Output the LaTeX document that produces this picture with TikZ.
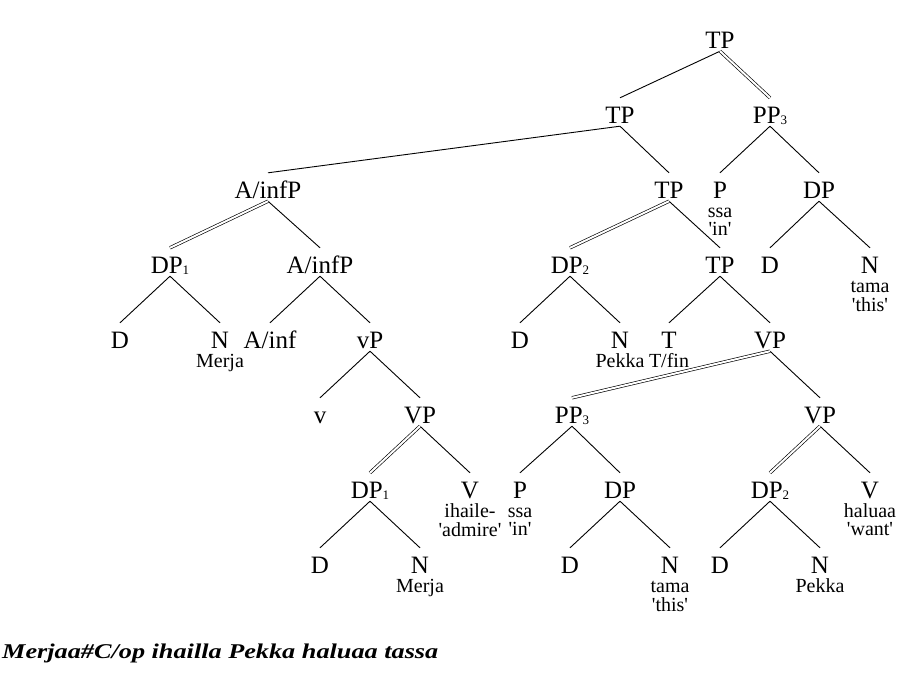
\documentclass[tikz,border=0pt]{standalone}
\usepackage{fontspec}
\usepackage{graphicx}
\setmainfont{Liberation Serif}
\newcommand\sbs[1]{\raisebox{-1pt}{\fontsize{13}{13}\selectfont #1}}
\newcommand\qq{\textquotesingle}
\newcommand\twol[2]{\begin{tabular}[t]{@{}c@{}}#1\\#2\end{tabular}}
\tikzset{
  lab/.style={anchor=base, font=\fontsize{25}{25}\selectfont, text height=22pt, text depth=0pt, inner xsep=0pt, inner ysep=3pt},
  gl/.style={anchor=base, font=\fontsize{20}{18}\selectfont, inner sep=0pt},
  ln/.style={line width=0.9pt},
  dbl/.style={double, double distance=2pt, line width=0.65pt}
}
\begin{document}
\begin{tikzpicture}[x=1pt,y=-1pt]
\useasboundingbox (0,0) rectangle (900,675);
% row 1
\node[lab] (t1) at (720,48) {TP};
% row 2
\node[lab] (t2) at (620,123) {TP};
\node[lab] (pp3a) at (770,123) {PP\sbs{3}};
% row 3
\node[lab] (a1) at (268,198) {A/infP};
\node[lab] (t3) at (669,198) {TP};
\node[lab] (p1) at (720,198) {P};
\node[gl] (p1g) at (720,217) {\twol{ssa}{\qq in\qq}};
\node[lab] (dpa) at (819,198) {DP};
% row 4
\node[lab] (dp1a) at (170,273) {DP\sbs{1}};
\node[lab] (a2) at (320,273) {A/infP};
\node[lab] (dp2a) at (570,273) {DP\sbs{2}};
\node[lab] (t4) at (720,273) {TP};
\node[lab] (da) at (770,273) {D};
\node[lab] (na) at (870,273) {N};
\node[gl] (nag) at (870,292) {\twol{tama}{\qq this\qq}};
% row 5
\node[lab] (d1) at (120,348) {D};
\node[lab] (n1) at (220,348) {N};
\node[gl] (n1g) at (220,367) {Merja};
\node[lab] (ainf) at (270,348) {A/inf};
\node[lab] (vp) at (370,348) {vP};
\node[lab] (d2) at (520,348) {D};
\node[lab] (n2) at (620,348) {N};
\node[gl] (n2g) at (620,367) {Pekka};
\node[lab] (tt) at (669,348) {T};
\node[gl] (ttg) at (669,367) {T/fin};
\node[lab] (vp1) at (770,348) {VP};
% row 6
\node[lab] (v) at (320,423) {v};
\node[lab] (vp2) at (420,423) {VP};
\node[lab] (pp3b) at (572,423) {PP\sbs{3}};
\node[lab] (vp3) at (820,423) {VP};
% row 7
\node[lab] (dp1b) at (370,498) {DP\sbs{1}};
\node[lab] (vv) at (470,498) {V};
\node[gl] (vvg) at (470,517) {\twol{ihaile-}{\qq admire\qq}};
\node[lab] (pb) at (520,498) {P};
\node[gl] (pbg) at (520,517) {\twol{ssa}{\qq in\qq}};
\node[lab] (dpb) at (620,498) {DP};
\node[lab] (dp2b) at (770,498) {DP\sbs{2}};
\node[lab] (vw) at (870,498) {V};
\node[gl] (vwg) at (870,517) {\twol{haluaa}{\qq want\qq}};
% row 8
\node[lab] (d3) at (320,573) {D};
\node[lab] (n3) at (420,573) {N};
\node[gl] (n3g) at (420,592) {Merja};
\node[lab] (d4) at (570,573) {D};
\node[lab] (n4) at (670,573) {N};
\node[gl] (n4g) at (670,592) {\twol{tama}{\qq this\qq}};
\node[lab] (d5) at (720,573) {D};
\node[lab] (n5) at (820,573) {N};
\node[gl] (n5g) at (820,592) {Pekka};
% bottom sentence
\node[anchor=base west, inner sep=0pt] (sent) at (2,658) {\scalebox{1.25}[1]{\fontsize{21}{21}\selectfont\bfseries\itshape Merjaa\#C/op ihailla Pekka haluaa tassa}};
% single edges
\draw[ln] (t1.south) -- (t2.north);
\draw[ln] (t2.south) -- (a1.north);
\draw[ln] (t2.south) -- (t3.north);
\draw[ln] (pp3a.south) -- (p1.north);
\draw[ln] (pp3a.south) -- (dpa.north);
\draw[ln] (dpa.south) -- (da.north);
\draw[ln] (dpa.south) -- (na.north);
\draw[ln] (a1.south) -- (a2.north);
\draw[ln] (dp1a.south) -- (d1.north);
\draw[ln] (dp1a.south) -- (n1.north);
\draw[ln] (a2.south) -- (ainf.north);
\draw[ln] (a2.south) -- (vp.north);
\draw[ln] (vp.south) -- (v.north);
\draw[ln] (vp.south) -- (vp2.north);
\draw[ln] (vp2.south) -- (vv.north);
\draw[ln] (dp1b.south) -- (d3.north);
\draw[ln] (dp1b.south) -- (n3.north);
\draw[ln] (t3.south) -- (t4.north);
\draw[ln] (dp2a.south) -- (d2.north);
\draw[ln] (dp2a.south) -- (n2.north);
\draw[ln] (t4.south) -- (tt.north);
\draw[ln] (t4.south) -- (vp1.north);
\draw[ln] (vp1.south) -- (vp3.north);
\draw[ln] (pp3b.south) -- (pb.north);
\draw[ln] (pp3b.south) -- (dpb.north);
\draw[ln] (dpb.south) -- (d4.north);
\draw[ln] (dpb.south) -- (n4.north);
\draw[ln] (vp3.south) -- (vw.north);
\draw[ln] (dp2b.south) -- (d5.north);
\draw[ln] (dp2b.south) -- (n5.north);
% double edges
\draw[dbl] (t1.south) -- (pp3a.north);
\draw[dbl] (a1.south) -- (dp1a.north);
\draw[dbl] (t3.south) -- (dp2a.north);
\draw[dbl] (vp2.south) -- (dp1b.north);
\draw[dbl] (vp1.south) -- (pp3b.north);
\draw[dbl] (vp3.south) -- (dp2b.north);
\end{tikzpicture}
\end{document}
